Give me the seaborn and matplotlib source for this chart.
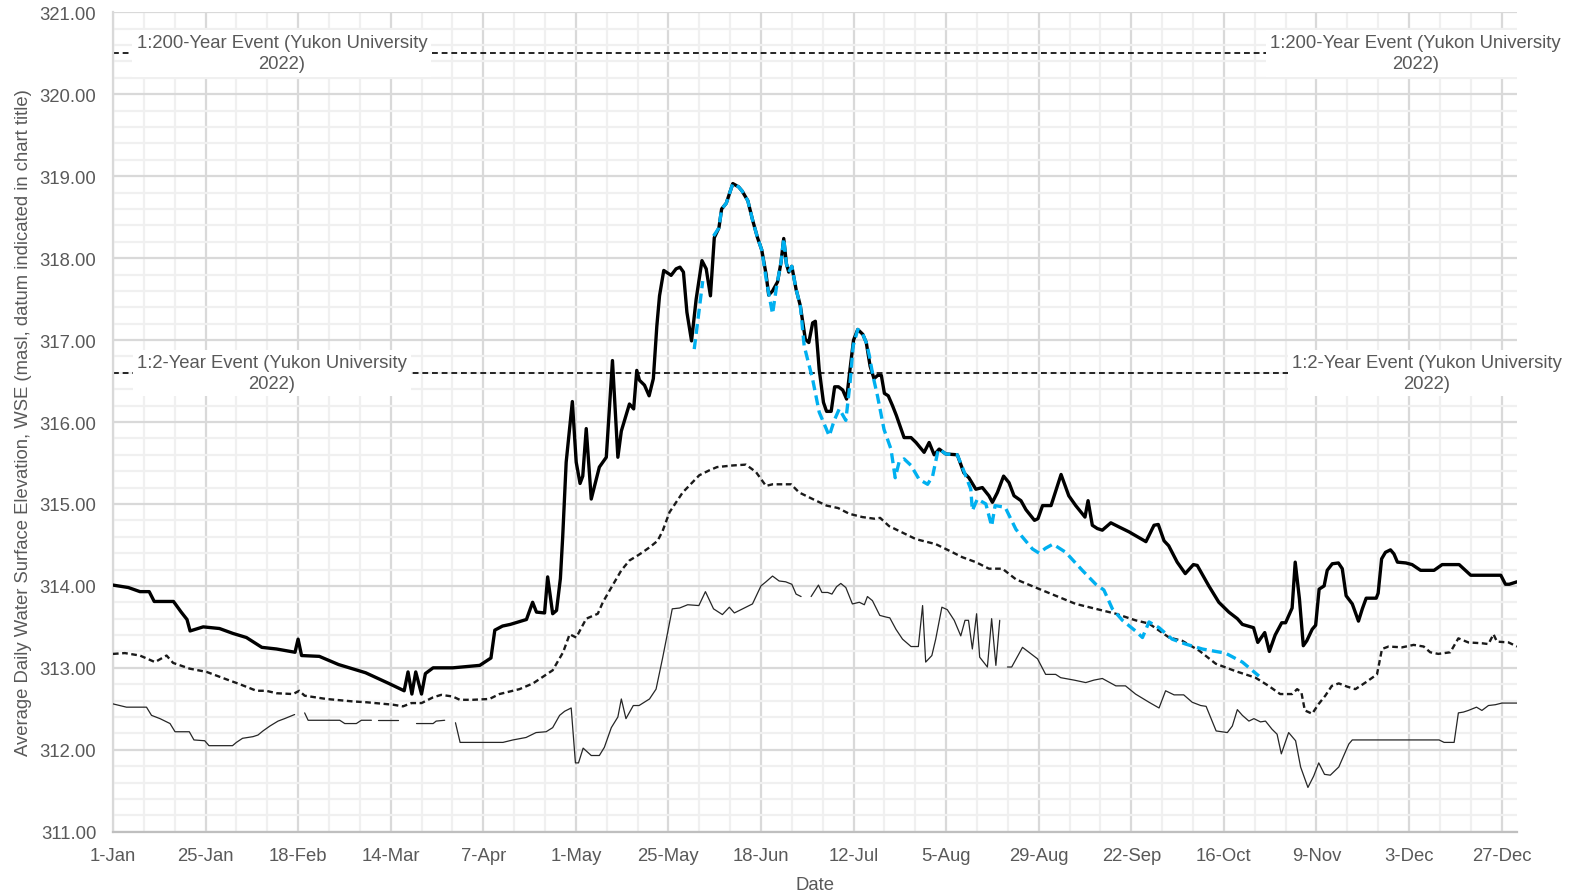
import numpy as np
import pandas as pd
import matplotlib
matplotlib.use('Agg')
import matplotlib.pyplot as plt
from matplotlib.ticker import FixedLocator, MultipleLocator
import seaborn as sns

# day of year (0 = 1-Jan) and water surface elevation (masl)
# nan marks a gap in the record

max_day = [0, 4, 7, 9.4, 10.7, 15.7, 17.7, 19.2, 20, 23.4, 27.6, 31.1, 34.6, 38.6, 42.4, 47.2, 48, 48.9,
           53.5, 58.5, 65.5, 71.5, 75.5, 76.5, 77.5, 78.5, 80, 81, 83, 88.1, 95.1, 98, 99, 101, 103, 107.2,
           108.8, 109.8, 111.9, 112.7, 114, 115, 116, 116.6, 117.5, 119.1, 120.1, 121.1, 121.8, 122.7, 124,
           126.1, 127.9, 129.5, 130.9, 131.8, 133.9, 135, 135.8, 136.5, 137.8, 139, 140.1, 141, 141.7, 142.8,
           144.7, 146, 147, 147.9, 148.8, 150, 151.2, 152.7, 153.8, 154.9, 155.9, 157.1, 157.8, 159, 160.7,
           162.2, 163.1, 164.6, 165.8, 167.1, 168.2, 169.3, 170, 171, 172.3, 173.2, 173.9, 174.6, 175.2, 176,
           177.1, 178.2, 179.5, 180.4, 181.4, 182.1, 183.1, 184.2, 185, 186.2, 187.1, 188.1, 189.2, 190.2,
           191.1, 192, 193.1, 194.4, 195.3, 196.3, 197.3, 198.3, 199.2, 200, 201, 202.1, 203.1, 205.1, 206.9,
           208.2, 210.3, 211.6, 212.9, 214.2, 215.9, 218.9, 220.6, 221.9, 223.7, 225.4, 227.1, 228, 229.3,
           230.9, 232.3, 233.6, 235.4, 236.7, 238.9, 239.8, 241, 243.2, 245.8, 247.8, 249.6, 252, 252.8,
           253.9, 255.2, 256.5, 258.7, 260.8, 263.4, 267.8, 269.9, 271, 272.5, 273.7, 275.9, 278, 280.1,
           281.1, 284.1, 286.7, 289.3, 291.5, 292.8, 295.7, 296.8, 298.6, 299.8, 301.3, 303, 304, 305.7,
           306.5, 307.6, 308.6, 309.5, 310.9, 311.8, 312.7, 314, 314.8, 316.1, 317.7, 318.7, 319.7, 321.3,
           322.9, 323.9, 324.9, 327.5, 328, 328.9, 329.9, 331.2, 332.1, 333, 335.2, 336.8, 339, 342.5, 344.6,
           349, 352, 359.8, 361, 362, 364]
max_wse = [314.01, 313.98, 313.93, 313.93, 313.81, 313.81, 313.68, 313.59, 313.45, 313.50, 313.48, 313.42,
           313.37, 313.25, 313.23, 313.19, 313.35, 313.15, 313.14, 313.04, 312.94, 312.81, 312.72, 312.95,
           312.68, 312.95, 312.68, 312.93, 313.00, 313.00, 313.03, 313.12, 313.46, 313.51, 313.53, 313.59,
           313.80, 313.68, 313.67, 314.11, 313.66, 313.70, 314.09, 314.60, 315.51, 316.25, 315.51, 315.25,
           315.34, 315.92, 315.06, 315.45, 315.57, 316.75, 315.57, 315.89, 316.22, 316.16, 316.63, 316.51,
           316.45, 316.32, 316.53, 317.17, 317.54, 317.85, 317.79, 317.87, 317.89, 317.83, 317.34, 316.99,
           317.50, 317.97, 317.87, 317.54, 318.25, 318.37, 318.60, 318.67, 318.91, 318.87, 318.82, 318.70,
           318.47, 318.25, 318.10, 317.81, 317.55, 317.60, 317.71, 317.95, 318.24, 317.93, 317.83, 317.90,
           317.62, 317.42, 317.01, 316.97, 317.21, 317.23, 316.64, 316.24, 316.13, 316.13, 316.43, 316.43,
           316.39, 316.28, 316.65, 317.00, 317.13, 317.07, 316.97, 316.68, 316.53, 316.57, 316.57, 316.35,
           316.32, 316.20, 316.08, 315.81, 315.81, 315.75, 315.63, 315.75, 315.60, 315.67, 315.61, 315.60,
           315.38, 315.32, 315.18, 315.20, 315.10, 315.02, 315.14, 315.34, 315.26, 315.10, 315.04, 314.93,
           314.80, 314.82, 314.98, 314.98, 315.36, 315.10, 314.98, 314.84, 315.04, 314.74, 314.70, 314.68,
           314.77, 314.72, 314.66, 314.54, 314.74, 314.75, 314.55, 314.49, 314.29, 314.15, 314.26, 314.25,
           314.00, 313.80, 313.68, 313.60, 313.53, 313.49, 313.31, 313.43, 313.20, 313.40, 313.55, 313.55,
           313.73, 314.29, 313.84, 313.27, 313.33, 313.47, 313.52, 313.96, 314.00, 314.19, 314.27, 314.28,
           314.21, 313.88, 313.78, 313.57, 313.72, 313.85, 313.85, 313.91, 314.33, 314.41, 314.44, 314.39,
           314.29, 314.28, 314.26, 314.19, 314.19, 314.26, 314.26, 314.13, 314.13, 314.02, 314.02, 314.05]

mean_day = [0, 3.1, 7, 10.9, 13.9, 15.6, 19.9, 24.3, 29.4, 32.9, 37.2, 39.7, 42.4, 46.7, 48.3, 49.7, 55.3,
            62.2, 65.7, 72.6, 75.2, 77.4, 80, 83, 85.1, 88.1, 89.9, 93.3, 97.6, 100.2, 105.4, 108.9, 114,
            116.7, 118.4, 120.1, 122.7, 125.7, 127, 129.2, 131.8, 133.9, 136, 137.3, 139.1, 141.2, 142.5,
            144.3, 147.7, 152, 154.6, 156.6, 160.7, 164.1, 166.7, 169.3, 171, 175.8, 177.9, 181.4, 185, 188,
            190.9, 194.3, 197.4, 198.9, 201.2, 204.7, 208.2, 213.3, 216.8, 220.2, 223.7, 227.1, 230.6, 234.1,
            239.2, 244.4, 249.6, 254.8, 260, 265.1, 268.6, 273.8, 277.2, 281.6, 285.9, 291, 296.2, 299.6,
            302.6, 305.7, 307, 308.1, 309, 310.9, 312.6, 314.3, 316, 317.8, 320, 322.1, 324.7, 327.7, 329,
            330.7, 334.2, 337.2, 339.8, 341.5, 343.6, 346.7, 348.8, 351.4, 354.9, 356.6, 357.9, 358.8, 361.8,
            364]
mean_wse = [313.17, 313.18, 313.15, 313.07, 313.15, 313.06, 312.99, 312.95, 312.86, 312.80, 312.72, 312.72,
            312.69, 312.68, 312.72, 312.66, 312.62, 312.59, 312.58, 312.55, 312.53, 312.57, 312.57, 312.64,
            312.67, 312.65, 312.61, 312.61, 312.62, 312.68, 312.74, 312.81, 312.97, 313.19, 313.41, 313.37,
            313.60, 313.66, 313.80, 313.98, 314.19, 314.31, 314.37, 314.41, 314.47, 314.55, 314.67, 314.90,
            315.14, 315.35, 315.41, 315.45, 315.47, 315.48, 315.39, 315.22, 315.24, 315.24, 315.14, 315.06,
            314.98, 314.95, 314.88, 314.84, 314.82, 314.83, 314.73, 314.65, 314.57, 314.51, 314.43, 314.35,
            314.29, 314.21, 314.21, 314.08, 313.98, 313.88, 313.78, 313.72, 313.66, 313.58, 313.54, 313.37,
            313.33, 313.21, 313.05, 312.96, 312.88, 312.78, 312.68, 312.68, 312.74, 312.70, 312.48, 312.44,
            312.56, 312.66, 312.78, 312.81, 312.77, 312.74, 312.82, 312.92, 313.23, 313.26, 313.25, 313.28,
            313.26, 313.19, 313.17, 313.19, 313.36, 313.31, 313.30, 313.29, 313.41, 313.32, 313.31, 313.26]

nan = np.nan
min_day = [0, 3.5, 8.7, 10, 12.2, 14.8, 16.1, 19.8, 21, 23.8, 24.9, 31, 32, 33.6, 36.3, 37.6, 38.9, 40.7,
           42.8, 44.5, 47.1, nan, 49.7, 50.6, 58.8, 60.1, 63.1, 64.4, 67, nan, 68.7, 73.9, nan, 78.7, 83,
           83.8, 86, nan, 88.8, 90, 101.1, 103.7, 107.1, 109.7, 112.3, 114, 115.8, 117.1, 118.8, 119.9,
           120.7, 121.9, 124, 126.1, 127.4, 129.2, 130.9, 131.8, 133, 134.9, 136.4, 139.1, 140.8, 142.5,
           143.8, 145, 146.9, 149, 151.9, 153.6, 155.7, 158, 159.8, 161.1, 162.4, 165.8, 168, 169.3, 171,
           172.7, 174.4, 176, 177.1, 178.4, nan, 181, 182.9, 183.8, 185.3, 186.4, 187.6, 188.7, 190, 191.7,
           193.5, 194.8, 195.6, 196.9, 198.8, 200.4, 201.4, 203, 204.7, 206.9, 208.8, 209.9, 210.7, 212.3,
           213.3, 214.9, 216.3, 218.1, 219.8, 220.9, 221.8, 222.8, 223.9, 224.7, 226.7, 227.8, 228.9, 229.9,
           nan, 231.9, 233, 235.8, 239.7, 241.8, 244.4, 245.7, 249.2, 252.2, 254.3, 256.5, 260, 262.5,
           265.1, 268.6, 271.2, 272.9, 275.1, 277.6, 279.8, 282, 283.4, 286, 288.9, 290.2, 291.5, 292.8,
           294.5, 295.8, 297.5, 298.8, 300.5, 301.8, 302.9, 304.8, 306.6, 307.9, 309.8, 311.3, 312.6, 314.1,
           315.6, 317.8, 320.4, 321.3, 343.8, 345.1, 347.7, 348.8, 350.1, 351.4, 353.5, 354.9, 356.6, 358.4,
           360.1, 364]
min_wse = [312.56, 312.52, 312.52, 312.42, 312.38, 312.32, 312.22, 312.22, 312.12, 312.11, 312.05, 312.05,
           312.09, 312.14, 312.16, 312.18, 312.23, 312.29, 312.35, 312.38, 312.43, nan, 312.45, 312.36,
           312.36, 312.32, 312.32, 312.36, 312.36, nan, 312.36, 312.36, nan, 312.32, 312.32, 312.35, 312.36,
           nan, 312.33, 312.09, 312.09, 312.12, 312.15, 312.21, 312.22, 312.27, 312.42, 312.47, 312.51,
           311.84, 311.84, 312.02, 311.93, 311.93, 312.03, 312.27, 312.40, 312.62, 312.38, 312.54, 312.54,
           312.62, 312.74, 313.12, 313.43, 313.72, 313.73, 313.77, 313.76, 313.93, 313.72, 313.65, 313.74,
           313.67, 313.70, 313.78, 314.00, 314.05, 314.12, 314.06, 314.05, 314.02, 313.90, 313.87, nan,
           313.87, 314.01, 313.92, 313.92, 313.90, 313.99, 314.03, 313.98, 313.78, 313.80, 313.77, 313.87,
           313.82, 313.64, 313.62, 313.61, 313.47, 313.35, 313.26, 313.26, 313.76, 313.07, 313.15, 313.35,
           313.74, 313.71, 313.58, 313.39, 313.58, 313.58, 313.23, 313.66, 313.13, 313.01, 313.60, 313.03,
           313.58, nan, 313.01, 313.01, 313.25, 313.11, 312.92, 312.92, 312.88, 312.85, 312.82, 312.85,
           312.87, 312.78, 312.78, 312.68, 312.58, 312.51, 312.72, 312.67, 312.67, 312.58, 312.54, 312.53,
           312.23, 312.21, 312.29, 312.49, 312.42, 312.35, 312.38, 312.34, 312.35, 312.25, 312.19, 311.95,
           312.21, 312.11, 311.79, 311.54, 311.68, 311.84, 311.70, 311.69, 311.79, 312.07, 312.12, 312.12,
           312.09, 312.09, 312.45, 312.46, 312.48, 312.52, 312.48, 312.54, 312.55, 312.57, 312.57]

cur_day = [150.7, 151.9, 152.9, nan, 155.7, 157.1, 157.8, 159, 160.7, 162.2, 163.1, 164.6, 165.8, 167.1,
           168.2, 169.5, 171, 172, 173.2, 173.9, 174.6, 175.2, 176, 177.1, 178.2, 179.2, 181.4, 183.1, 185.7,
           187, 188.3, 190, 191.1, 191.9, 193.1, 194.4, 195.3, 196.1, 197, 198.2, 199.9, 201.7, 202.8, 203.8,
           205.1, 206.9, 209, 211.2, 212.5, 213.8, 214.2, 215.9, 218.9, 220.7, 222.4, 222.8, 224.1, 226.3,
           227.8, 228.7, 231.3, 234.1, 238.4, 240.1, 241.8, 243.7, 247, 251.3, 254.8, 256.9, 259.1, 261.7,
           265.1, 266.9, 268.6, 271.2, 274.6, 278.1, 282.4, 285.9, 288.4, 292.8, 297.1]
cur_wse = [316.89, 317.34, 317.72, nan, 318.27, 318.37, 318.60, 318.67, 318.91, 318.87, 318.82, 318.70,
           318.47, 318.25, 318.10, 317.70, 317.32, 317.64, 317.95, 318.24, 317.93, 317.83, 317.90, 317.62,
           317.42, 316.93, 316.52, 316.12, 315.83, 316.02, 316.16, 316.02, 316.48, 316.93, 317.13, 317.07,
           316.97, 316.81, 316.57, 316.32, 315.91, 315.67, 315.32, 315.51, 315.55, 315.47, 315.30, 315.24,
           315.34, 315.63, 315.67, 315.61, 315.60, 315.39, 315.18, 314.92, 315.06, 315.00, 314.73, 314.98,
           314.96, 314.69, 314.45, 314.40, 314.46, 314.51, 314.41, 314.19, 314.02, 313.95, 313.72, 313.58,
           313.45, 313.37, 313.56, 313.49, 313.35, 313.29, 313.23, 313.20, 313.18, 313.07, 312.90]

flood_names = ['1:200-Year Event (Yukon University\n2022)', '1:2-Year Event (Yukon University\n2022)']
flood_wse = [320.5, 316.6]

tick_days = list(range(0, 361, 24))
tick_labels = ['1-Jan', '25-Jan', '18-Feb', '14-Mar', '7-Apr', '1-May', '25-May', '18-Jun',
               '12-Jul', '5-Aug', '29-Aug', '22-Sep', '16-Oct', '9-Nov', '3-Dec', '27-Dec']


def to_frame(days, wse):
    df = pd.DataFrame({'day': days, 'wse': wse})
    df['seg'] = df['day'].isna().cumsum()
    return df.dropna()


sns.set_style('white')
plt.rcParams['font.family'] = ['Liberation Sans', 'DejaVu Sans']
grey_text = '#595959'

fig = plt.figure(figsize=(15.73, 8.95), dpi=100)
ax = fig.add_axes([0.0718, 0.0696, 0.8926, 0.9155])

sns.lineplot(data=to_frame(min_day, min_wse), x='day', y='wse', units='seg', estimator=None,
             sort=False, color='#262626', linewidth=0.9, ax=ax, zorder=3)
sns.lineplot(data=to_frame(mean_day, mean_wse), x='day', y='wse', units='seg', estimator=None,
             sort=False, color='#1a1a1a', linewidth=1.7, ax=ax, zorder=3)
ax.lines[-1].set_dashes((2.4, 1.5))
sns.lineplot(data=to_frame(max_day, max_wse), x='day', y='wse', units='seg', estimator=None,
             sort=False, color='black', linewidth=2.4, ax=ax, zorder=4)
n_before = len(ax.lines)
sns.lineplot(data=to_frame(cur_day, cur_wse), x='day', y='wse', units='seg', estimator=None,
             sort=False, color='#00B0F0', linewidth=2.4, ax=ax, zorder=5)
for ln in ax.lines[n_before:]:
    ln.set_dashes((3.0, 1.6))

label_pos = [(43.8, 337.7), (41.2, 340.6)]
for name, lvl, (xl, xr) in zip(flood_names, flood_wse, label_pos):
    ax.axhline(lvl, color='black', linewidth=1.2, dashes=(3.5, 2.3), zorder=2)
    for xp in (xl, xr):
        ax.text(xp, lvl, name, ha='center', va='center', fontsize=13.3, color=grey_text,
                linespacing=1.3, zorder=6, clip_on=False,
                bbox=dict(facecolor='white', edgecolor='none', pad=3))

ax.set_xlim(0, 364)
ax.set_ylim(311, 321)
ax.xaxis.set_major_locator(FixedLocator(tick_days))
ax.set_xticklabels(tick_labels)
ax.xaxis.set_minor_locator(MultipleLocator(8))
ax.yaxis.set_major_locator(MultipleLocator(1))
ax.yaxis.set_minor_locator(MultipleLocator(0.2))
ax.yaxis.set_major_formatter(lambda v, p: f'{v:.2f}')
ax.set_axisbelow(True)
ax.grid(which='major', color='#d9d9d9', linewidth=1.6)
ax.grid(which='minor', color='#f0f0f0', linewidth=1.6)
ax.tick_params(which='both', length=0, labelsize=13.3, labelcolor=grey_text)
ax.tick_params(axis='y', pad=12)
ax.tick_params(axis='x', pad=11)
for side in ['top', 'right']:
    ax.spines[side].set_visible(False)
ax.spines['left'].set_color('#d9d9d9')
ax.spines['bottom'].set_color('#bfbfbf')
ax.spines['left'].set_linewidth(1.6)
ax.spines['bottom'].set_linewidth(1.6)

ax.set_xlabel('Date', fontsize=13.3, color=grey_text, labelpad=9)
ax.set_ylabel('Average Daily Water Surface Elevation, WSE (masl, datum indicated in chart title)',
              fontsize=13.3, color=grey_text, labelpad=5)

fig.savefig('out.png', dpi=100)
